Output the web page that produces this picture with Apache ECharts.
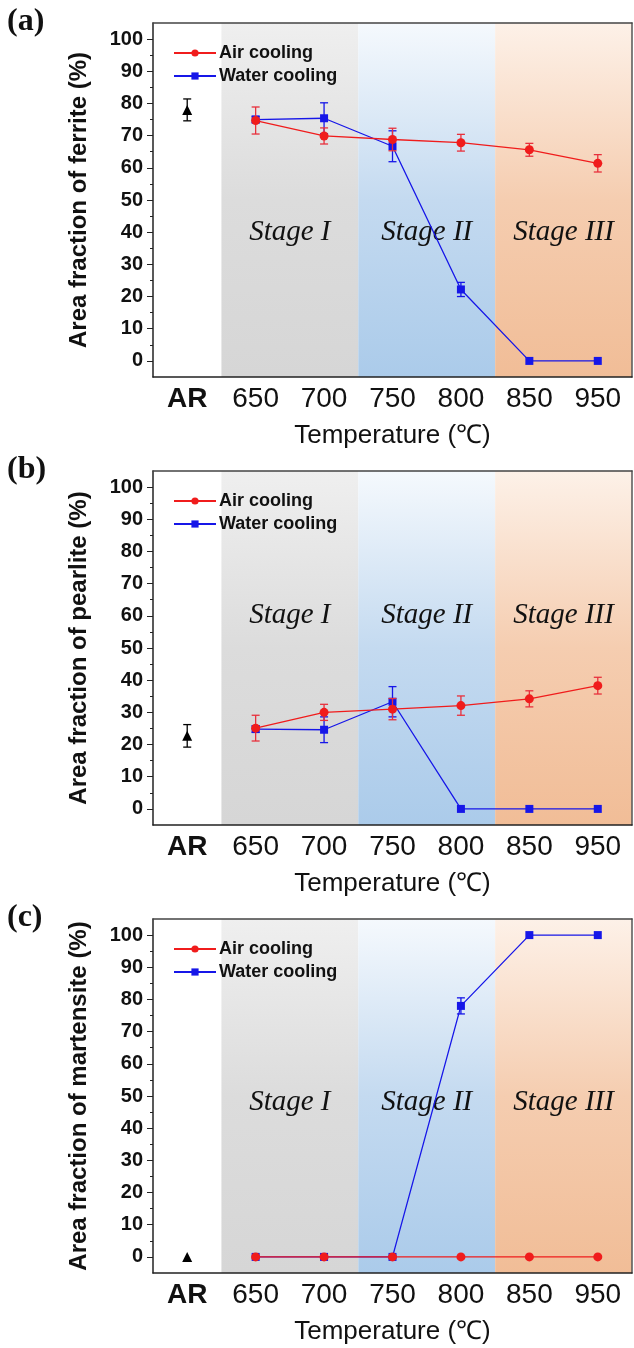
<!DOCTYPE html>
<html>
<head>
<meta charset="utf-8">
<script src="https://cdn.jsdelivr.net/npm/echarts@6/dist/echarts.min.js"></script>
<style>
  html, body { margin: 0; padding: 0; background: #fff; }
  #chart-panel { width: 634px; height: 1348px; }
</style>
</head>
<body>
<div id="chart-panel"></div>
<script>
// x 轴类别
var categories = ['AR', '650', '700', '750', '800', '850', '950'];

// 阶段划分（隐藏数值轴上的起止，类别序号 ±0.5）
var stageNames = ['Stage I', 'Stage II', 'Stage III'];
var stageStart = [0.5, 2.5, 4.5];
var stageEnd = [2.5, 4.5, 6.5];

// y 轴刻度
var yLabelValues = [0, 10, 20, 30, 40, 50, 60, 70, 80, 90, 100];
var yMinorValues = [5, 15, 25, 35, 45, 55, 65, 75, 85, 95];

// (a) ferrite  [值, 误差]
var ferriteAR = [78, 3.4];
var ferriteAir = [74.7, 69.9, 68.8, 67.8, 65.6, 61.4];
var ferriteAirErr = [4.2, 2.5, 3.5, 2.6, 2.0, 2.7];
var ferriteWater = [75.0, 75.4, 66.7, 22.2, 0, 0];
var ferriteWaterErr = [1.0, 4.8, 4.8, 2.2, 0, 0];

// (b) pearlite
var pearliteAR = [22.7, 3.5];
var pearliteAir = [25.1, 30.0, 31.0, 32.1, 34.2, 38.3];
var pearliteAirErr = [4.0, 2.5, 3.3, 3.0, 2.5, 2.6];
var pearliteWater = [24.8, 24.6, 33.3, 0, 0, 0];
var pearliteWaterErr = [1.0, 4.0, 4.7, 0, 0, 0];

// (c) martensite
var martensiteAR = [0, 0];
var martensiteAir = [0, 0, 0, 0, 0, 0];
var martensiteAirErr = [0, 0, 0, 0, 0, 0];
var martensiteWater = [0, 0, 0, 78, 100, 100];
var martensiteWaterErr = [0, 0, 0, 2.5, 0, 0];

var panels = [
  {tag: '(a)', yName: 'Area fraction of ferrite (%)', ar: ferriteAR, air: ferriteAir, airErr: ferriteAirErr,
    water: ferriteWater, waterErr: ferriteWaterErr, stageY: 40, top: 23},
  {tag: '(b)', yName: 'Area fraction of pearlite (%)', ar: pearliteAR, air: pearliteAir, airErr: pearliteAirErr,
    water: pearliteWater, waterErr: pearliteWaterErr, stageY: 60, top: 471},
  {tag: '(c)', yName: 'Area fraction of martensite (%)', ar: martensiteAR, air: martensiteAir, airErr: martensiteAirErr,
    water: martensiteWater, waterErr: martensiteWaterErr, stageY: 48, top: 919}
];

var RED = '#f01c1c';
var BLUE = '#1616e8';
var AXIS = '#222';
var SANS = 'Liberation Sans, Arial, sans-serif';
var SERIF = 'Liberation Serif, Times New Roman, serif';

var stageColors = [
  ['#efefef', '#dcdcdc', '#d6d6d6'],
  ['#f5f9fd', '#c4daf0', '#abcbea'],
  ['#fdf1e8', '#f5cdb0', '#f1bd97']
];

function grad(k) {
  var c = stageColors[k];
  return new echarts.graphic.LinearGradient(0, 0, 0, 1, [
    {offset: 0, color: c[0]},
    {offset: 0.5, color: c[1]},
    {offset: 1, color: c[2]}
  ]);
}

// 误差棒
function errRender(params, api) {
  var x = api.value(0);
  var lo = api.coord([x, api.value(1)]);
  var hi = api.coord([x, api.value(2)]);
  var w = 4;
  var st = {stroke: api.visual('color'), lineWidth: 1.3};
  return {
    type: 'group',
    children: [
      {type: 'line', shape: {x1: lo[0], y1: lo[1], x2: hi[0], y2: hi[1]}, style: st},
      {type: 'line', shape: {x1: lo[0] - w, y1: lo[1], x2: lo[0] + w, y2: lo[1]}, style: st},
      {type: 'line', shape: {x1: hi[0] - w, y1: hi[1], x2: hi[0] + w, y2: hi[1]}, style: st}
    ]
  };
}

function errData(vals, errs) {
  var out = [];
  vals.forEach(function (v, k) {
    if (errs[k] > 0) out.push([k + 1, v - errs[k], v + errs[k]]);
  });
  return out;
}

var grids = [], xAxes = [], yAxes = [], series = [], legends = [], titles = [];

panels.forEach(function (p, i) {
  grids.push({left: 153, right: 2, top: p.top, height: 354});

  titles.push({
    text: p.tag, left: 7, top: p.top - 17, padding: 0,
    textStyle: {fontFamily: SERIF, fontWeight: 'bold', fontSize: 32, color: '#111'}
  });

  legends.push({
    data: ['Air cooling', 'Water cooling'],
    orient: 'vertical', left: 173, top: p.top + 21, padding: 0,
    itemWidth: 42, itemHeight: 9, itemGap: 5,
    selectedMode: false,
    textStyle: {fontFamily: SANS, fontWeight: 'bold', fontSize: 18, color: '#111', padding: [0, 0, 0, -2]}
  });

  xAxes.push({
    type: 'category', gridIndex: i, data: categories, position: 'bottom', z: 10,
    axisLine: {onZero: false, lineStyle: {color: AXIS, width: 1.5}},
    axisTick: {alignWithLabel: true, length: 5, lineStyle: {color: AXIS}},
    axisLabel: {
      interval: 0, margin: 8, color: '#111', fontFamily: SANS, fontSize: 28,
      formatter: function (v) { return v === 'AR' ? '{b|AR}' : v; },
      rich: {b: {fontWeight: 'bold', fontSize: 28, fontFamily: SANS, color: '#111'}}
    },
    name: 'Temperature (℃)', nameLocation: 'middle', nameGap: 46,
    nameTextStyle: {fontFamily: SANS, fontSize: 26, color: '#111'}
  });
  xAxes.push({
    type: 'value', gridIndex: i, min: -0.5, max: 6.5, position: 'top', z: 10,
    axisLine: {show: true, onZero: false, lineStyle: {color: '#444', width: 1.5}},
    axisTick: {show: false}, axisLabel: {show: false}, splitLine: {show: false}
  });

  yAxes.push({
    type: 'value', gridIndex: i, min: -5, max: 105, position: 'left', z: 10,
    axisLine: {show: true, onZero: false, lineStyle: {color: AXIS, width: 1.5}},
    axisTick: {show: true, customValues: yLabelValues, length: 6, lineStyle: {color: AXIS}},
    axisLabel: {customValues: yLabelValues, margin: 10, color: '#111', fontFamily: SANS, fontWeight: 'bold', fontSize: 20},
    splitLine: {show: false},
    name: p.yName, nameLocation: 'middle', nameGap: 62,
    nameTextStyle: {fontFamily: SANS, fontWeight: 'bold', fontSize: 24, color: '#111'}
  });
  yAxes.push({
    type: 'value', gridIndex: i, min: -5, max: 105, position: 'left', z: 10,
    axisLine: {show: false, onZero: false},
    axisTick: {show: true, customValues: yMinorValues, length: 3, lineStyle: {color: AXIS}},
    axisLabel: {show: false}, splitLine: {show: false}
  });
  yAxes.push({
    type: 'value', gridIndex: i, min: -5, max: 105, position: 'right', z: 10,
    axisLine: {show: true, onZero: false, lineStyle: {color: '#555', width: 1.5}},
    axisTick: {show: false}, axisLabel: {show: false}, splitLine: {show: false}
  });

  var xCat = i * 2, xVal = i * 2 + 1, yMain = i * 3;

  // 阶段背景
  series.push({
    type: 'line', xAxisIndex: xVal, yAxisIndex: yMain, data: [], silent: true, z: 1,
    markArea: {
      silent: true,
      data: stageNames.map(function (n, k) {
        return [{xAxis: stageStart[k], itemStyle: {color: grad(k), opacity: 1}}, {xAxis: stageEnd[k]}];
      })
    }
  });
  // 阶段文字
  series.push({
    type: 'scatter', xAxisIndex: xVal, yAxisIndex: yMain, silent: true, z: 2,
    symbolSize: 1, itemStyle: {color: 'rgba(0,0,0,0)', opacity: 1},
    data: stageNames.map(function (n, k) {
      return {name: n, value: [(stageStart[k] + stageEnd[k]) / 2, p.stageY]};
    }),
    label: {
      show: true, position: 'inside', formatter: '{b}', opacity: 1,
      fontFamily: SERIF, fontStyle: 'italic', fontSize: 29, color: '#111'
    }
  });

  // 水冷
  series.push({
    type: 'custom', name: 'water-err', xAxisIndex: xCat, yAxisIndex: yMain, z: 3,
    itemStyle: {color: BLUE}, renderItem: errRender, data: errData(p.water, p.waterErr)
  });
  series.push({
    type: 'line', name: 'Water cooling', xAxisIndex: xCat, yAxisIndex: yMain, z: 4,
    data: ['-'].concat(p.water), symbol: 'rect', symbolSize: 8,
    itemStyle: {color: BLUE}, lineStyle: {color: BLUE, width: 1.3}
  });
  // 空冷
  series.push({
    type: 'custom', name: 'air-err', xAxisIndex: xCat, yAxisIndex: yMain, z: 5,
    itemStyle: {color: '#e8303c'}, renderItem: errRender, data: errData(p.air, p.airErr)
  });
  series.push({
    type: 'line', name: 'Air cooling', xAxisIndex: xCat, yAxisIndex: yMain, z: 6,
    data: ['-'].concat(p.air), symbol: 'circle', symbolSize: 9,
    itemStyle: {color: RED}, lineStyle: {color: RED, width: 1.3}
  });
  // 原始态 AR
  if (p.ar[1] > 0) {
    series.push({
      type: 'custom', name: 'ar-err', xAxisIndex: xCat, yAxisIndex: yMain, z: 5,
      itemStyle: {color: '#000'}, renderItem: errRender,
      data: [[0, p.ar[0] - p.ar[1], p.ar[0] + p.ar[1]]]
    });
  }
  series.push({
    type: 'scatter', name: 'AR', xAxisIndex: xCat, yAxisIndex: yMain, z: 6,
    symbol: 'triangle', symbolSize: 10, itemStyle: {color: '#000', opacity: 1},
    data: [[0, p.ar[0]]]
  });
});

var chartPanel = document.getElementById('chart-panel');
var myChart = echarts.init(chartPanel);

myChart.setOption({
  backgroundColor: '#fff',
  animation: false,
  title: titles,
  legend: legends,
  grid: grids,
  xAxis: xAxes,
  yAxis: yAxes,
  series: series
});

window.onresize = function () {
  myChart.resize();
};
</script>
</body>
</html>
